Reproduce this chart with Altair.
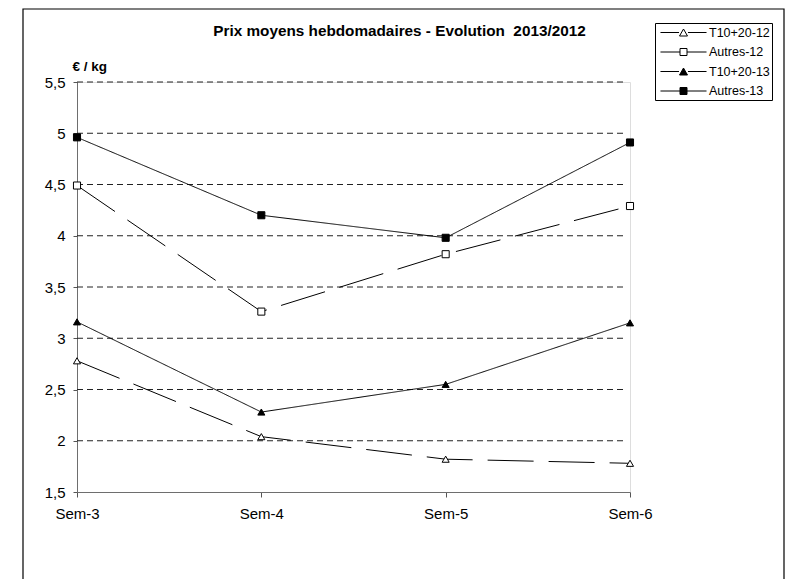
import altair as alt
import pandas as pd

weeks = ["Sem-3", "Sem-4", "Sem-5", "Sem-6"]
series_names = ["T10+20-12", "Autres-12", "T10+20-13", "Autres-13"]
t10_12 = [2.78, 2.04, 1.82, 1.78]
autres_12 = [4.49, 3.26, 3.82, 4.29]
t10_13 = [3.16, 2.28, 2.55, 3.15]
autres_13 = [4.96, 4.20, 3.98, 4.91]
y_ticks = [1.5, 2, 2.5, 3, 3.5, 4, 4.5, 5, 5.5]

series_values = [t10_12, autres_12, t10_13, autres_13]
rows = []
for name, vals in zip(series_names, series_values):
    for w, v in zip(weeks, vals):
        rows.append({"serie": name, "sem": w, "prix": v})
df = pd.DataFrame(rows)
grid_df = pd.DataFrame({"v": y_ticks[1:]})

FONT = "Liberation Sans"
W, H = 553, 410

xenc = alt.X(
    "sem:N",
    sort=weeks,
    scale=alt.Scale(type="point", domain=weeks, padding=0),
    axis=alt.Axis(
        title=None, labelAngle=0, labelFont=FONT, labelFontSize=15, labelColor="black",
        labelPadding=9, tickSize=5, tickColor="#555555", domainColor="#6e6e6e",
        grid=False,
    ),
)
yscale = alt.Scale(domain=[1.5, 5.5], nice=False, zero=False)
yenc = alt.Y(
    "prix:Q",
    scale=yscale,
    axis=alt.Axis(
        values=y_ticks, title="€ / kg", titleAngle=0, titleAlign="left",
        titleBaseline="middle", titleX=-5, titleY=-16, titleFont=FONT,
        titleFontSize=13.5, titleFontWeight="bold", titleColor="black",
        labelFont=FONT, labelFontSize=15, labelColor="black", labelPadding=8,
        labelExpr="replace(toString(datum.value), '.', ',')",
        tickSize=4, tickColor="#555555", domainColor="#6e6e6e", grid=False,
    ),
)

border = alt.Chart(alt.Data(values=[{}])).mark_rect(
    fill="white", fillOpacity=0, stroke="black", strokeWidth=1.2
).encode(
    x=alt.value(-54), x2=alt.value(707), y=alt.value(-73), y2=alt.value(600)
)

grid = alt.Chart(grid_df).mark_rule(
    color="#222222", strokeDash=[6, 4], strokeWidth=1
).encode(
    y=alt.Y("v:Q", scale=yscale), x=alt.value(0), x2=alt.value(546)
)

lines = alt.Chart(df).mark_line(color="black", strokeWidth=1).encode(
    x=xenc,
    y=yenc,
    detail="serie:N",
    strokeDash=alt.StrokeDash(
        "serie:N",
        scale=alt.Scale(domain=series_names, range=[[46, 15], [46, 15], [1, 0], [1, 0]]),
        legend=None,
    ),
)

points = alt.Chart(df).mark_point(
    filled=True, stroke="black", strokeWidth=1, opacity=1, size=50
).encode(
    x=xenc,
    y=yenc,
    shape=alt.Shape(
        "serie:N",
        scale=alt.Scale(domain=series_names, range=["triangle-up", "square", "triangle-up", "square"]),
        legend=None,
    ),
    fill=alt.Fill(
        "serie:N",
        scale=alt.Scale(domain=series_names, range=["white", "white", "black", "black"]),
        legend=None,
    ),
)

tri_path = "M-3.29,0H-0.64M0.64,0H3.29M-0.57,0.5L0.57,0.5L0,-0.5Z"
sq_path = "M-3.29,0H-0.5M0.5,0H3.29M-0.5,-0.5H0.5V0.5H-0.5Z"
legend_props = dict(
    title=None, orient="none", legendX=578, legendY=-59,
    strokeColor="black", fillColor="white", padding=2,
    symbolSize=196, symbolStrokeWidth=1,
    symbolOpacity=1, symbolOffset=19, labelOffset=18, rowPadding=5.5,
    labelFont=FONT, labelFontSize=12.5, labelColor="black", labelLimit=200,
)
legend_layer = alt.Chart(df).transform_filter("false").mark_point(
    filled=True, strokeWidth=1, opacity=1, size=196
).encode(
    shape=alt.Shape(
        "serie:N",
        scale=alt.Scale(domain=series_names, range=[tri_path, sq_path, tri_path, sq_path]),
        legend=alt.Legend(**legend_props),
    ),
    fill=alt.Fill(
        "serie:N",
        scale=alt.Scale(domain=series_names, range=["white", "white", "black", "black"]),
        legend=alt.Legend(**legend_props),
    ),
    stroke=alt.Stroke(
        "serie:N",
        scale=alt.Scale(domain=series_names, range=["black", "black", "black", "black"]),
        legend=alt.Legend(**legend_props),
    ),
)

chart = alt.layer(border, grid, lines, points, legend_layer).resolve_scale(
    shape="independent", fill="independent", stroke="independent"
).properties(
    width=W,
    height=H,
    autosize=alt.AutoSizeParams(type="none"),
    padding={"left": 69, "top": 74, "right": 156, "bottom": 87},
    title=alt.Title(
        "Prix moyens hebdomadaires - Evolution \u00a02013/2012",
        font=FONT, fontSize=15.3, fontWeight="bold", color="black",
        anchor="middle", dx=46, offset=-43, baseline="alphabetic",
    ),
).configure_view(stroke=None).configure(background="white").configure_legend(strokeWidth=1)

chart.save("out.html", embed_options={"renderer": "svg", "actions": False})
